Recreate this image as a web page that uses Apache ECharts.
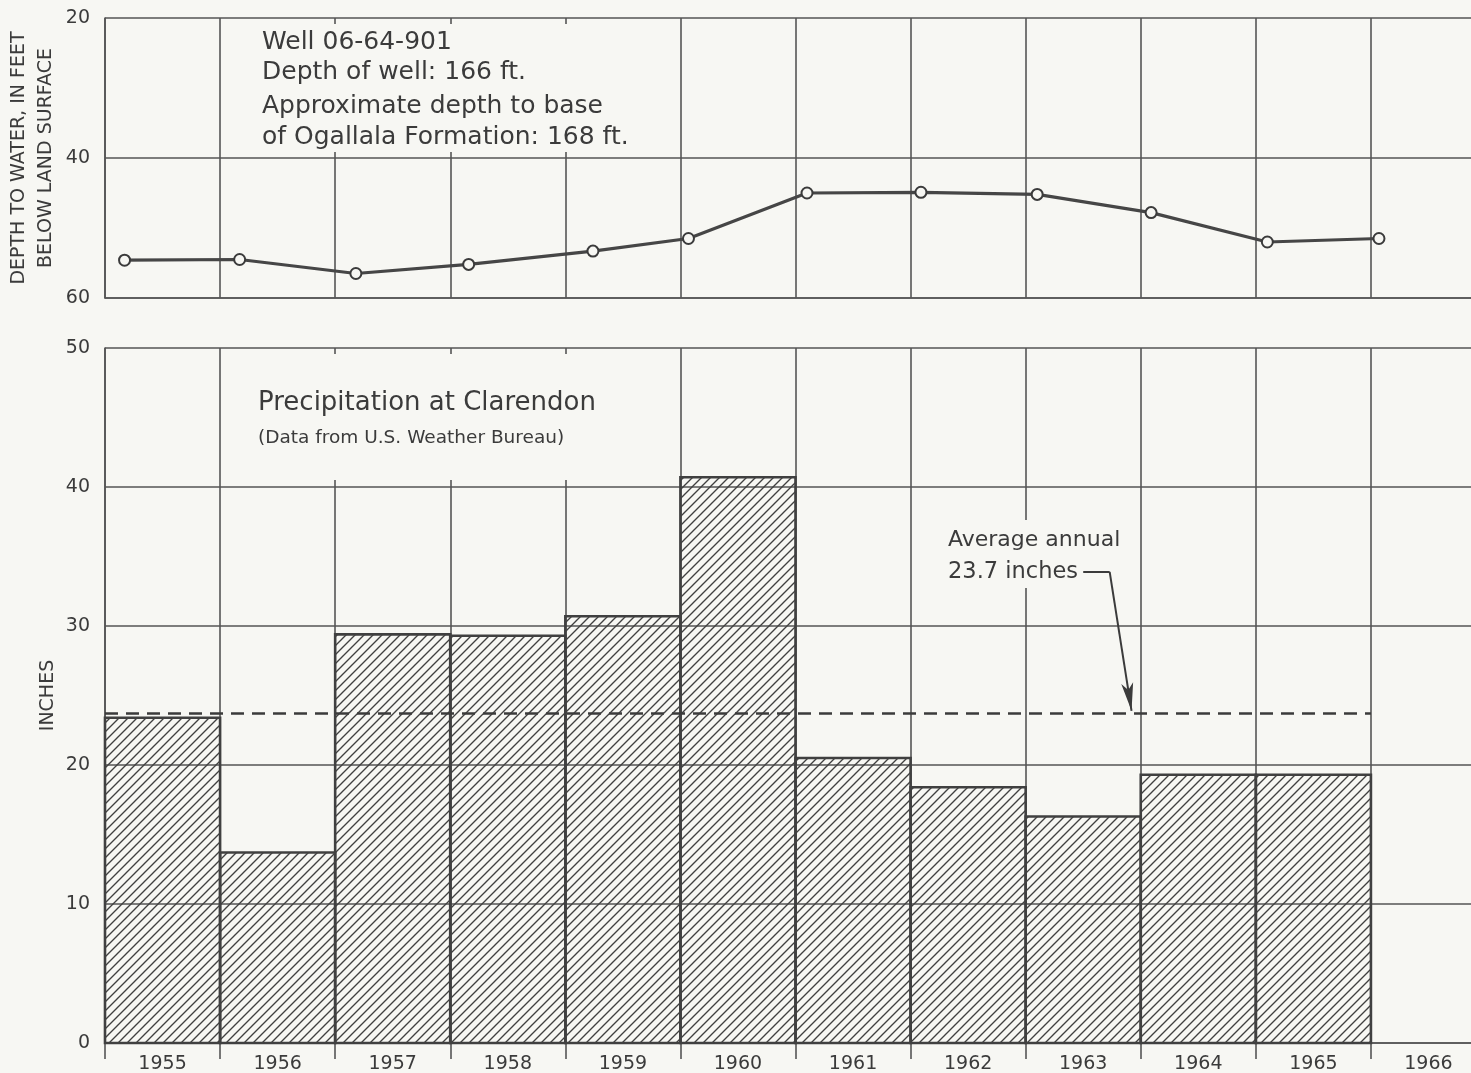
<!DOCTYPE html>
<html>
<head>
<meta charset="utf-8">
<title>Well 06-64-901 and precipitation at Clarendon</title>
<script src="https://cdn.jsdelivr.net/npm/echarts@6/dist/echarts.min.js"></script>
<style>
  html, body { margin: 0; padding: 0; background: #f7f7f3; }
  #chart { width: 1471px; height: 1073px; }
</style>
</head>
<body>
<div id="chart"></div>
<script>
// water level measurements: decimal year of measurement, depth to water (ft)
const levelDates = [1955.17, 1956.17, 1957.18, 1958.16, 1959.24, 1960.07, 1961.10, 1962.09, 1963.10, 1964.09, 1965.10, 1966.07];
const levelDepths = [54.6, 54.5, 56.5, 55.2, 53.3, 51.5, 45.0, 44.9, 45.2, 47.8, 52.0, 51.5];

// annual precipitation at Clarendon (inches)
const precipYears = [1955, 1956, 1957, 1958, 1959, 1960, 1961, 1962, 1963, 1964, 1965];
const precipInches = [23.4, 13.7, 29.4, 29.3, 30.7, 40.7, 20.5, 18.4, 16.3, 19.3, 19.3];
const averageAnnual = 23.7;

// x tick labels
const yearLabels = ["1955", "1956", "1957", "1958", "1959", "1960", "1961", "1962", "1963", "1964", "1965", "1966"];

// leader arrow for the average note, in data units (year, inches)
const arrowPath = [[1963.50, 33.9], [1963.73, 33.9], [1963.92, 23.9]];

const INK = "#3b3b3b";
const GRID = "#555555";
const PAPER = "#f7f7f3";
const FONT = "DejaVu Sans";

function hatchPattern() {
  const s = 9;
  const c = document.createElement("canvas");
  c.width = s;
  c.height = s;
  const ctx = c.getContext("2d");
  ctx.strokeStyle = "#404040";
  ctx.lineWidth = 1.35;
  ctx.beginPath();
  ctx.moveTo(0, s);
  ctx.lineTo(s, 0);
  ctx.moveTo(-1, 1);
  ctx.lineTo(1, -1);
  ctx.moveTo(s - 1, s + 1);
  ctx.lineTo(s + 1, s - 1);
  ctx.stroke();
  return c;
}

const hatch = { image: hatchPattern(), repeat: "repeat" };
const chart = echarts.init(document.getElementById("chart"));

const splitStyle = { show: true, lineStyle: { color: GRID, width: 1.6 } };
const noLine = { show: false };

function note(text, x, y, size, box) {
  const items = [];
  if (box) {
    items.push({
      type: "rect", z: 1,
      shape: box,
      style: { fill: PAPER },
    });
  }
  items.push({
    type: "text", z: 1,
    x: x, y: y,
    style: {
      text: text,
      fill: INK,
      font: size + "px '" + FONT + "'",
      verticalAlign: "middle",
    },
  });
  return items;
}

const graphics = [].concat(
  note("Well 06-64-901", 262, 42, 25, { x: 225, y: 24, width: 452, height: 128 }),
  note("Depth of well: 166 ft.", 262, 72, 25),
  note("Approximate depth to base", 262, 106, 25),
  note("of Ogallala Formation: 168 ft.", 262, 137, 25),
  note("Precipitation at Clarendon", 258, 403, 26, { x: 225, y: 354, width: 440, height: 126 }),
  note("(Data from U.S. Weather Bureau)", 258, 438, 18.5),
  note("Average annual", 948, 540, 22, { x: 938, y: 520, width: 142, height: 68 }),
  note("23.7 inches", 948, 572, 22.5)
);

const option = {
  backgroundColor: PAPER,
  animation: false,
  textStyle: { fontFamily: FONT, color: INK },
  grid: [
    { left: 105, top: 18, width: 1381, height: 280, containLabel: false, outerBoundsMode: "none" },
    { left: 105, top: 348, width: 1381, height: 695, containLabel: false, outerBoundsMode: "none" },
  ],
  xAxis: [
    {
      gridIndex: 0, type: "value", min: 1955, max: 1967, interval: 1,
      axisLine: { onZero: false, lineStyle: { color: GRID, width: 1.6 } },
      axisTick: noLine, axisLabel: noLine, splitLine: splitStyle,
    },
    {
      gridIndex: 1, type: "value", min: 1955, max: 1967, interval: 1,
      axisLine: { onZero: false, lineStyle: { color: GRID, width: 1.6 } },
      axisTick: { show: true, length: 16, lineStyle: { color: GRID, width: 1.6 } },
      axisLabel: noLine, splitLine: splitStyle,
    },
    {
      gridIndex: 1, type: "category", data: yearLabels, boundaryGap: true,
      position: "bottom",
      axisLine: noLine, axisTick: noLine, splitLine: noLine,
      axisLabel: { show: true, fontSize: 19, color: INK, margin: 12, fontFamily: FONT },
    },
  ],
  yAxis: [
    {
      gridIndex: 0, type: "value", min: 20, max: 60, interval: 20, inverse: true,
      name: "DEPTH TO WATER, IN FEET\nBELOW LAND SURFACE",
      nameLocation: "middle", nameGap: 45, nameRotate: 90, nameMoveOverlap: false,
      nameTextStyle: { fontSize: 19, color: INK, lineHeight: 27, fontFamily: FONT },
      axisLine: { show: true, lineStyle: { color: GRID, width: 1.6 } },
      axisTick: noLine,
      axisLabel: { fontSize: 19, color: INK, margin: 15, fontFamily: FONT },
      splitLine: splitStyle,
    },
    {
      gridIndex: 1, type: "value", min: 0, max: 50, interval: 10,
      name: "INCHES",
      nameLocation: "middle", nameGap: 47, nameRotate: 90, nameMoveOverlap: false,
      nameTextStyle: { fontSize: 19, color: INK, fontFamily: FONT },
      axisLine: { show: true, lineStyle: { color: GRID, width: 1.6 } },
      axisTick: noLine,
      axisLabel: { fontSize: 19, color: INK, margin: 15, fontFamily: FONT },
      splitLine: splitStyle,
    },
  ],
  series: [
    {
      name: "Water level",
      type: "line",
      xAxisIndex: 0, yAxisIndex: 0,
      data: levelDates.map((d, i) => [d, levelDepths[i]]),
      lineStyle: { color: "#464646", width: 3.2 },
      symbol: "circle", symbolSize: 11,
      itemStyle: { color: PAPER, borderColor: INK, borderWidth: 2 },
      z: 5,
    },
    {
      name: "Precipitation",
      type: "custom",
      xAxisIndex: 1, yAxisIndex: 1,
      data: precipYears.map((y, i) => [y, precipInches[i]]),
      encode: { x: 0, y: 1 },
      renderItem: (params, api) => {
        const year = api.value(0);
        const top = api.coord([year, api.value(1)]);
        const base = api.coord([year + 1, 0]);
        return {
          type: "rect",
          shape: { x: top[0], y: top[1], width: base[0] - top[0], height: base[1] - top[1] },
          style: { fill: hatch, stroke: "#404040", lineWidth: 2.6 },
        };
      },
      z: 3,
    },
    {
      name: "Average annual",
      type: "line",
      xAxisIndex: 1, yAxisIndex: 1,
      data: [[precipYears[0], averageAnnual], [precipYears[precipYears.length - 1] + 1, averageAnnual]],
      symbol: "none",
      lineStyle: { color: INK, width: 2.4, type: [13, 8] },
      z: 4,
      markLine: {
        silent: true,
        symbol: ["none", "none"],
        label: { show: false },
        lineStyle: { color: INK, width: 2, type: "solid" },
        data: [
          [{ coord: arrowPath[0] }, { coord: arrowPath[1] }],
          [{ coord: arrowPath[1] }, { coord: arrowPath[2], symbol: "arrow", symbolSize: [9, 28] }],
        ],
      },
    },
  ],
  graphic: graphics,
};

chart.setOption(option);
</script>
</body>
</html>
